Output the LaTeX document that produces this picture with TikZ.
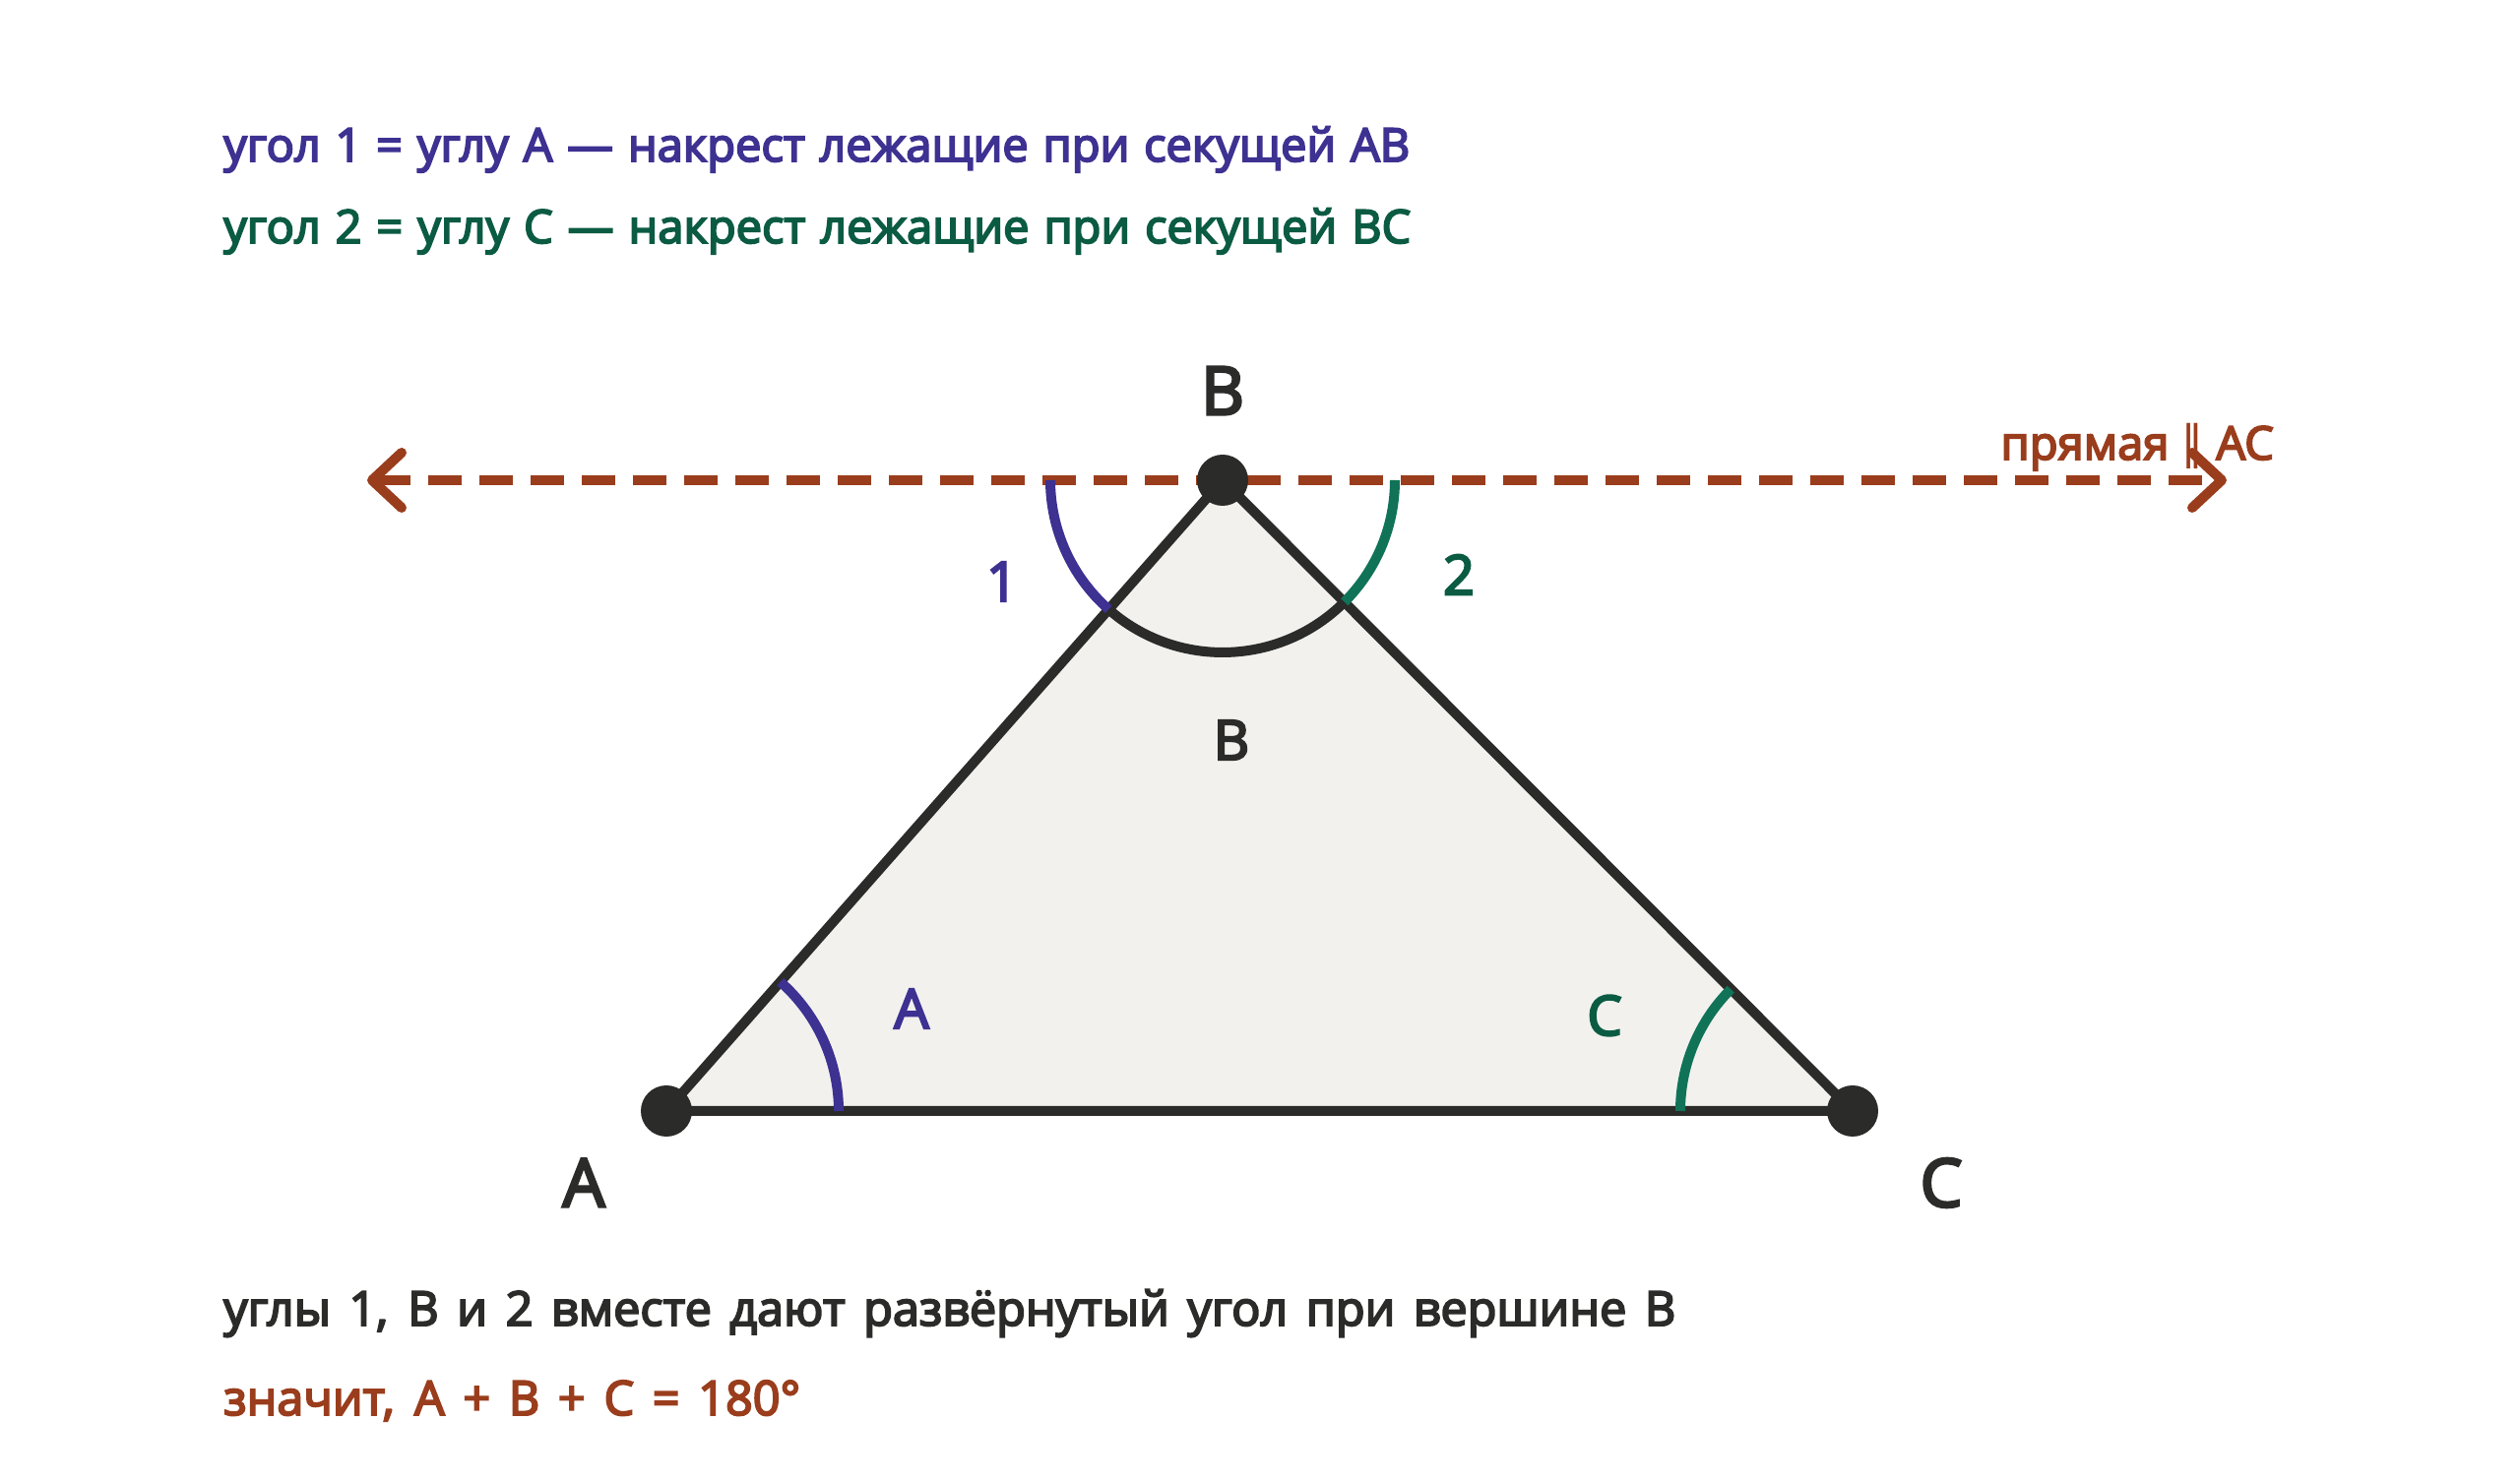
\documentclass[tikz,border=0pt]{standalone}
\usepackage{fontspec}
\setmainfont{Open Sans}
\newfontfamily\sbfont{Open Sans}[FakeBold=4]
\newfontfamily\symf{DejaVu Sans}
\usetikzlibrary{arrows.meta}
\definecolor{cpurple}{HTML}{3D3191}
\definecolor{cgreen}{HTML}{107357}
\definecolor{cgreentext}{HTML}{0B5B43}
\definecolor{cbrown}{HTML}{9A3D1C}
\definecolor{cdark}{HTML}{2B2B29}
\definecolor{cfill}{HTML}{F2F1EE}
\tikzset{
  txt/.style={inner sep=0pt, anchor=base west, font=\sbfont\fontsize{47}{52}\selectfont},
  txtb/.style={inner sep=0pt, anchor=base west, font=\sbfont\fontsize{48.5}{52}\selectfont},
  biglabel/.style={inner sep=0pt, text=cdark, font=\sbfont\fontsize{68}{72}\selectfont},
  smalllabel/.style={inner sep=0pt, font=\sbfont\fontsize{56}{60}\selectfont},
  edge/.style={draw=cdark, line width=10pt, line cap=round, line join=round},
  vdot/.style={circle, fill=cdark, minimum size=52pt, inner sep=0pt},
  arcline/.style={line width=10pt},
  parline/.style={draw=cbrown, line width=10pt, dash pattern=on 34pt off 18pt,
    {Straight Barb[length=30pt, width=56pt, line width=10pt, round]}-{Straight Barb[length=30pt, width=56pt, line width=10pt, round]}}
}
\begin{document}
\begin{tikzpicture}[x=1pt,y=1pt]
\useasboundingbox[fill=white] (0,0) rectangle (2560,1506);
% vertices
\coordinate (A) at (677,377);
\coordinate (B) at (1242,1018);
\coordinate (C) at (1882,377);
\coordinate (PL) at (373,1018);
\coordinate (PR) at (2262,1018);
% fill
\fill[cfill] (A) -- (B) -- (C) -- cycle;
% parallel line
\draw[parline] (PL) -- (PR);
% edges
\draw[edge] (A) -- (B) -- (C) -- cycle;
% angle arcs at B
\draw[arcline, cdark] ([shift={(228.6:175)}]B) arc[start angle=228.6, end angle=315, radius=175];
\draw[arcline, cpurple] ([shift={(180:175)}]B) arc[start angle=180, end angle=228.6, radius=175];
\draw[arcline, cgreen] ([shift={(315:175)}]B) arc[start angle=315, end angle=360, radius=175];
% angle arcs at A and C
\draw[arcline, cpurple] ([shift={(0:175)}]A) arc[start angle=0, end angle=48.6, radius=175];
\draw[arcline, cgreen] ([shift={(135:175)}]C) arc[start angle=135, end angle=180, radius=175];
% dots
\node[vdot] (dA) at (A) {};
\node[vdot] (dB) at (B) {};
\node[vdot] (dC) at (C) {};
% vertex labels
\node[biglabel] (lB) at (1242,1109) {B};
\node[biglabel] (lA) at (593,304) {A};
\node[biglabel] (lC) at (1972,304) {C};
% angle labels
\node[smalllabel, text=cpurple] (l1) at (1018,915) {1};
\node[smalllabel, text=cgreentext] (l2) at (1482,922) {2};
\node[smalllabel, text=cdark] (lBi) at (1251,754) {B};
\node[smalllabel, text=cpurple] (lAi) at (926,481) {A};
\node[smalllabel, text=cgreentext] (lCi) at (1630,474) {C};
% parallel label
\node[txt, anchor=base east, text=cbrown] (lp) at (2310,1039) {прямая {\symf ∥} AC};
% texts
\node[txt, text=cpurple] (t1) at (227,1342) {\makebox[1205pt][s]{угол 1 = углу A — накрест лежащие при секущей AB}};
\node[txt, text=cgreentext] (t2) at (227,1259) {\makebox[1206pt][s]{угол 2 = углу C — накрест лежащие при секущей BC}};
\node[txtb, text=cdark] (t3) at (227,159) {\makebox[1475pt][s]{углы 1, B и 2 вместе дают развёрнутый угол при вершине B}};
\node[txtb, text=cbrown] (t4) at (227,68) {\makebox[586pt][s]{значит, A + B + C = 180°}};
\end{tikzpicture}
\end{document}
